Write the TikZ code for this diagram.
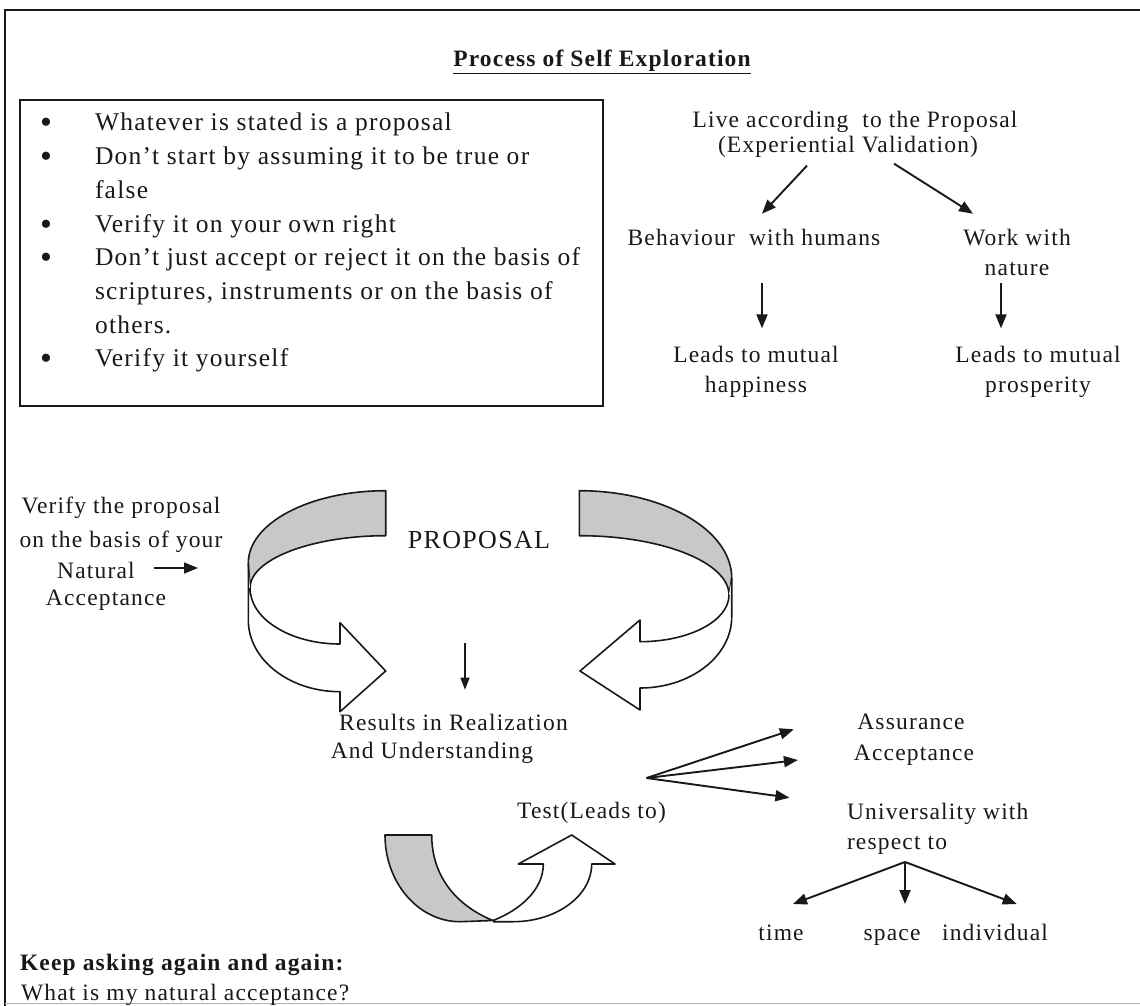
\documentclass[tikz,border=0pt]{standalone}
\usepackage{fontspec}
\setmainfont{Liberation Serif}[LetterSpace=5]
\usetikzlibrary{arrows.meta,calc}
\definecolor{band}{RGB}{200,200,200}
\definecolor{ink}{RGB}{25,25,25}
\tikzset{
 txt/.style={inner sep=0pt, outer sep=0pt, text=ink, font=\fontsize{23.5}{30}\selectfont},
 btxt/.style={txt, anchor=base west, font=\fontsize{25.5}{30}\selectfont},
 bdot/.style={txt, anchor=base, font=\fontsize{34}{30}\selectfont},
 arr/.style={draw=ink, line width=1.9pt, -{Triangle[length=14pt,width=11pt]}},
 thinarr/.style={draw=ink, line width=1.2pt, -{Triangle[length=12pt,width=9pt]}},
 ribbon/.style={draw=ink, line width=1.6pt, line join=round},
}
\begin{document}
\begin{tikzpicture}[x=1pt,y=-1pt]
\useasboundingbox (0,0) rectangle (1140,1006);
\fill[white] (0,0) rectangle (1140,1006);
% frame
\draw[line width=2.5pt, ink] (5,1006) -- (5,10) -- (1140,10);
\draw[line width=0.6pt, black!30] (5,1003) -- (1140,1003);

% title
\node[txt, font=\bfseries\fontsize{23.5}{26}\selectfont] (title) at (602,62) {\underline{Process of Self Exploration}};

% bullet box
\node[draw=ink, line width=1.6pt, minimum width=583pt, minimum height=306pt, inner sep=0pt] (box) at (311.5,253) {};
\node[bdot] (d1) at (46,134) {\textbullet};
\node[btxt] (b1) at (95,131) {Whatever is stated is a proposal};
\node[bdot] (d2) at (46,167.7) {\textbullet};
\node[btxt] (b2) at (95,164.7) {Don’t start by assuming it to be true or};
\node[btxt] (b2b) at (95,198.4) {false};
\node[bdot] (d3) at (46,235.1) {\textbullet};
\node[btxt] (b3) at (95,232.1) {Verify it on your own right};
\node[bdot] (d4) at (46,268.8) {\textbullet};
\node[btxt] (b4) at (95,265.8) {Don’t just accept or reject it on the basis of};
\node[btxt] (b4b) at (95,299.5) {scriptures, instruments or on the basis of};
\node[btxt] (b4c) at (95,333.2) {others.};
\node[bdot] (d5) at (46,369.9) {\textbullet};
\node[btxt] (b5) at (95,366.9) {Verify it yourself};

% top right tree
\node[txt] (live) at (855,122) {Live according~ to the Proposal};
\node[txt] (exp) at (848,147) {(Experiential Validation)};
\node[txt] (beh) at (754,237) {Behaviour~ with humans};
\node[txt, align=center] (work) at (1017,252) {Work with\\nature};
\node[txt, align=center] (lh) at (756,372) {Leads to mutual\\happiness};
\node[txt, align=center] (lp) at (1038,372) {Leads to mutual\\prosperity};
\draw[arr] ($(exp.south)+(-41,8)$) -- ($(beh.north)+(8,-15)$);
\draw[arr] ($(exp.south)+(46,6)$) -- ($(work.north)+(-44,-15)$);
\draw[arr] ($(beh.south)+(8,38)$) -- ($(lh.north)+(6,-18)$);
\draw[arr] ($(work.south)+(-16,8)$) -- ($(lp.north)+(-37,-18)$);

% verify block
\node[txt, align=center, font=\fontsize{23.5}{33.5}\selectfont] (ver) at (121,525) {Verify the proposal\\on the basis of your};
\node[txt] (nat) at (96,570) {Natural};
\node[txt] (acc) at (106,600) {Acceptance};
\coordinate (natTip) at (198,568);
\draw[arr, line width=1.5pt] ($(nat.east)+(19,-2)$) -- (natTip);

% big ribbon arrows
\path[ribbon, fill=band] (385.7,490.7) .. controls (309.9,490.7) and (248.3,523.1) .. (248.3,563)
  -- (250,588) .. controls (250,559.3) and (311.7,535.7) .. (385.7,535.7) -- cycle;
\path[ribbon, fill=white] (248.3,563) -- (248.3,620) .. controls (248.3,659.6) and (289.4,691.7) .. (340,691.7)
  -- (340,711.7) -- (385.7,671) -- (340,622.7) -- (340,644)
  .. controls (290.3,644) and (250,618.9) .. (250,588);
\path[ribbon, fill=band] (579.3,490.7) .. controls (663.4,490.7) and (731.7,529.8) .. (731.7,578)
  -- (729,595) .. controls (729,562.3) and (661.9,535.7) .. (579.3,535.7) -- cycle;
\path[ribbon, fill=white] (731.7,578) -- (731.7,617) .. controls (731.7,656.2) and (690.6,688) .. (640,688)
  -- (640,710) -- (580,671) -- (640,620) -- (640,641.7)
  .. controls (689.1,641.7) and (729,620.8) .. (729,595);

\node[txt, font=\fontsize{26}{30}\selectfont] (prop) at (479,540) {PROPOSAL};
\coordinate (dstart) at (465,643);
\node[txt] (res1) at (453.5,722) {Results in Realization};
\node[txt] (res2) at (432,753) {And Understanding};
\draw[thinarr] (dstart) -- ($(res1.north)+(11.5,-24)$);

% U arrow
\path[ribbon, fill=band] (385,835) -- (431.7,835) .. controls (431.7,875) and (455,905) .. (493,920.5)
  -- (460,921.7) .. controls (418.6,921.7) and (385,882.9) .. (385,835) -- cycle;
\path[ribbon, fill=white] (493,920.5) .. controls (520,910) and (543.3,890) .. (543.3,864)
  -- (518.3,864) -- (571.7,835) -- (615,864) -- (591.7,864)
  .. controls (591.7,895.8) and (556.4,921.7) .. (513,921.7) -- (493,921.7);

% test and fan
\node[txt] (test) at (591.5,813) {Test(Leads to)};
\coordinate (fan) at (646.5,778);
\node[txt, anchor=base] (assur) at (911,729) {Assurance};
\node[txt, anchor=base] (accpt) at (914,760) {Acceptance};
\node[txt, align=left, anchor=west] (univ) at (847,829) {Universality with\\respect to};
\draw[arr] (fan) -- ($(assur.base west)+(-63.6,0.3)$);
\draw[arr] (fan) -- ($(accpt.base west)+(-56,0)$);
\draw[arr] (fan) -- ($(univ.north west)+(-57.6,-5.7)$);

\coordinate (fan2) at (905,862);
\node[txt, anchor=base] (time) at (781,940) {time};
\node[txt, anchor=base] (space) at (892,940) {space};
\node[txt, anchor=base] (indiv) at (995,940) {individual};
\draw[arr] (fan2) -- ($(time.base)+(12,-36)$);
\draw[arr] (fan2) -- ($(space.base)+(13,-36)$);
\draw[arr] (fan2) -- ($(indiv.base)+(21.7,-36)$);

% bottom text
\node[txt, anchor=west, font=\bfseries\fontsize{23.5}{26}\selectfont] (keep) at (20,965) {Keep asking again and again:};
\node[txt, anchor=west] (what) at (21,995) {What is my natural acceptance?};
\end{tikzpicture}
\end{document}
